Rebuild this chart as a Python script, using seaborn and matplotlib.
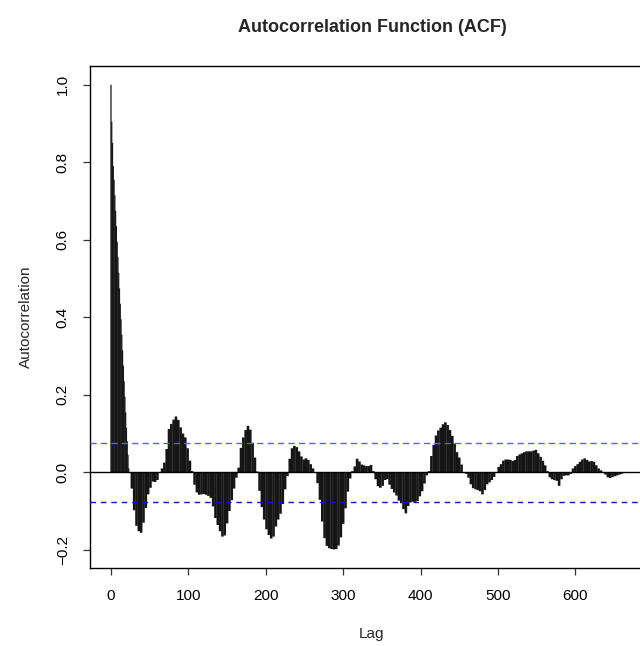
import numpy as np
import matplotlib
matplotlib.use("Agg")
import matplotlib.pyplot as plt
import seaborn as sns

# ---------------- data ----------------
# lags 0..23, one value per lag
acf_head = [1.000, 0.905, 0.850, 0.790, 0.755, 0.715, 0.675, 0.635, 0.595, 0.555,
            0.515, 0.475, 0.435, 0.395, 0.355, 0.315, 0.275, 0.235, 0.195, 0.155,
            0.115, 0.080, 0.045, 0.010]
# lags 24, 27, 30, ... 672 (every third lag)
acf_tail = [
    -0.002, -0.042, -0.098, -0.138, -0.152, -0.156, -0.130, -0.092, -0.057, -0.040,   # 24-51
    -0.024, -0.025, -0.020, -0.002, 0.010, 0.025, 0.060, 0.112, 0.125, 0.136,         # 54-81
    0.144, 0.135, 0.116, 0.100, 0.090, 0.062, 0.030, 0.003, -0.032, -0.052,           # 84-111
    -0.058, -0.057, -0.056, -0.058, -0.061, -0.066, -0.088, -0.118, -0.136, -0.152,   # 114-141
    -0.166, -0.163, -0.132, -0.100, -0.072, -0.042, -0.014, 0.012, 0.063, 0.090,      # 144-171
    0.109, 0.120, 0.110, 0.076, 0.038, 0.002, -0.048, -0.090, -0.122, -0.147,         # 174-201
    -0.162, -0.171, -0.166, -0.140, -0.122, -0.107, -0.082, -0.044, -0.010, 0.035,    # 204-231
    0.062, 0.068, 0.065, 0.054, 0.041, 0.033, 0.036, 0.032, 0.021, 0.010,             # 234-261
    0.000, -0.028, -0.071, -0.127, -0.170, -0.190, -0.196, -0.198, -0.199, -0.198,    # 264-291
    -0.189, -0.168, -0.133, -0.093, -0.050, -0.016, 0.003, 0.015, 0.035, 0.028,       # 294-321
    0.020, 0.018, 0.016, 0.016, 0.019, 0.003, -0.018, -0.036, -0.040, -0.035,         # 324-351
    -0.020, -0.018, -0.032, -0.043, -0.052, -0.060, -0.073, -0.080, -0.095, -0.106,   # 354-381
    -0.087, -0.078, -0.076, -0.079, -0.074, -0.062, -0.049, -0.029, -0.008, 0.003,    # 384-411
    0.042, 0.071, 0.095, 0.108, 0.115, 0.124, 0.129, 0.122, 0.109, 0.094,             # 414-441
    0.074, 0.052, 0.038, 0.020, 0.000, -0.004, -0.014, -0.031, -0.041, -0.044,        # 444-471
    -0.046, -0.049, -0.057, -0.046, -0.031, -0.026, -0.020, -0.012, -0.001, 0.014,    # 474-501
    0.021, 0.030, 0.033, 0.033, 0.032, 0.029, 0.032, 0.042, 0.046, 0.049,             # 504-531
    0.052, 0.054, 0.054, 0.054, 0.056, 0.058, 0.049, 0.040, 0.030, 0.018,             # 534-561
    0.003, -0.013, -0.018, -0.020, -0.022, -0.035, -0.018, -0.009, -0.008, -0.008,    # 564-591
    -0.004, 0.010, 0.016, 0.021, 0.027, 0.033, 0.036, 0.032, 0.028, 0.029,            # 594-621
    0.027, 0.018, 0.010, 0.005, 0.001, -0.006, -0.013, -0.015, -0.012, -0.010,        # 624-651
    -0.008, -0.006, -0.004, -0.002, -0.001, -0.001, 0.000,                            # 654-672
]
lags_head = np.arange(len(acf_head))
lags_tail = 24 + 3 * np.arange(len(acf_tail))

conf_bound = 0.0755
x_ticks = [0, 100, 200, 300, 400, 500, 600]
y_ticks = [-0.2, 0.0, 0.2, 0.4, 0.6, 0.8, 1.0]
y_tick_labels = ["\u22120.2", "0.0", "0.2", "0.4", "0.6", "0.8", "1.0"]

title = "Autocorrelation Function (ACF)"
xlabel = "Lag"
ylabel = "Autocorrelation"

# ---------------- style ----------------
sns.set_style("white")
plt.rcParams["font.family"] = ["Liberation Sans", "DejaVu Sans"]

W, H = 640, 646
fig = plt.figure(figsize=(W / 100, H / 100), dpi=100)
ax = fig.add_axes([90 / W, (H - 568) / H, (654 - 90) / W, (568 - 66) / H])

bar_color = "#151515"
sns.barplot(x=lags_head, y=acf_head, native_scale=True, orient="x", color=bar_color,
            saturation=1, width=1.6, linewidth=0, errorbar=None, ax=ax)
sns.barplot(x=lags_tail, y=acf_tail, native_scale=True, orient="x", color=bar_color,
            saturation=1, width=1.12, linewidth=0, errorbar=None, ax=ax)
for p in ax.patches:
    p.set_snap(False)

ax.axhline(0, color="black", lw=1.0, zorder=3)
ax.axhline(conf_bound, color="#5c5cff", lw=1.0, ls=(0, (4.5, 3)), zorder=3)
ax.axhline(-conf_bound, color="#1414b4", lw=1.0, ls=(0, (4, 3.5)), zorder=3)

ax.set_xlim(-27.1, 701.6)
ax.set_ylim(-0.247, 1.0485)

ax.set_xticks(x_ticks)
ax.set_xticklabels([str(t) for t in x_ticks])
ax.set_yticks(y_ticks)
ax.set_yticklabels(y_tick_labels)

for s in ax.spines.values():
    s.set_visible(True)
    s.set_color("black")
    s.set_linewidth(1.0)

ax.tick_params(axis="both", direction="out", length=5, width=0.9, color="#333333",
               labelsize=11, labelcolor="black")
ax.tick_params(axis="x", pad=10, bottom=True)
ax.tick_params(axis="y", pad=9.5, left=True, labelrotation=90)
for lbl in ax.get_yticklabels():
    lbl.set_verticalalignment("center")

ax.set_xlabel(xlabel, fontsize=11)
ax.set_ylabel(ylabel, fontsize=11)
ax.xaxis.set_label_coords(0.5, -(627 - 568) / (568 - 66))
ax.yaxis.set_label_coords(-(90 - 33) / (654 - 90), 0.5)

fig.text(372 / W, 1 - 32 / H, title, ha="center", va="baseline",
         fontsize=13, fontweight="bold")

fig.savefig("out.png", dpi=100)
